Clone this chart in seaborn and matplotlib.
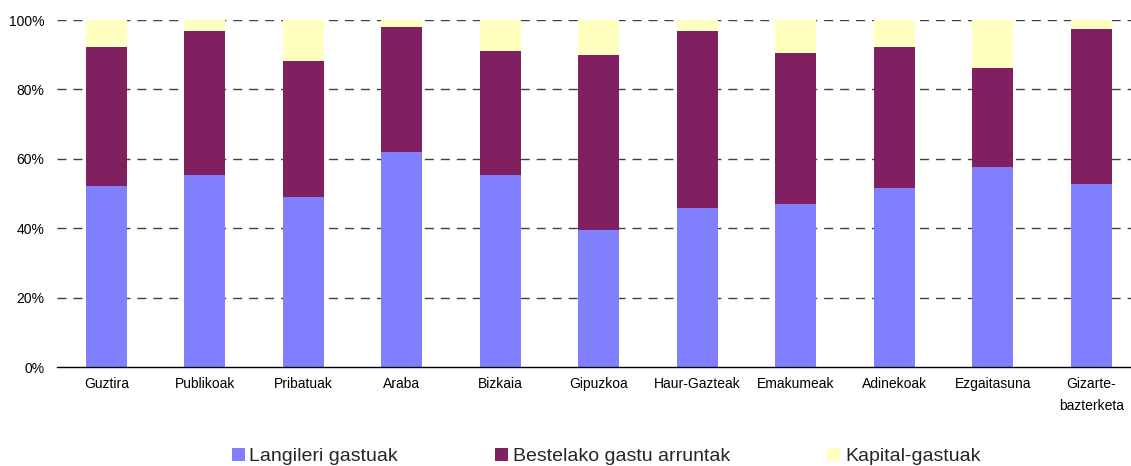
import numpy as np
import pandas as pd
import matplotlib
matplotlib.use("Agg")
import matplotlib.pyplot as plt
import seaborn as sns
from matplotlib.ticker import FixedLocator, PercentFormatter

categories = ["Guztira", "Publikoak", "Pribatuak", "Araba", "Bizkaia", "Gipuzkoa",
              "Haur-Gazteak", "Emakumeak", "Adinekoak", "Ezgaitasuna", "Gizarte-\nbazterketa"]
langileri = [52.2, 55.3, 49.0, 62.0, 55.3, 39.5, 45.8, 47.0, 51.6, 57.6, 52.7]
bestelako = [40.0, 41.5, 39.2, 36.0, 35.8, 50.4, 51.0, 43.5, 40.6, 28.6, 44.7]
kapital = [7.8, 3.2, 11.8, 2.0, 8.9, 10.1, 3.2, 9.5, 7.8, 13.8, 2.6]
series_names = ["Langileri gastuak", "Bestelako gastu arruntak", "Kapital-gastuak"]
colors = ["#8080FF", "#802060", "#FFFFC0"]

sns.set_theme(style="white")
plt.rcParams["font.family"] = ["Liberation Sans", "DejaVu Sans"]

df = pd.DataFrame({"cat": categories, "a": langileri, "b": bestelako, "c": kapital})
df["top_a"] = df["a"]
df["top_b"] = df["a"] + df["b"]
df["top_c"] = df["a"] + df["b"] + df["c"]

fig = plt.figure(figsize=(11.31, 4.66), dpi=100)
ax = fig.add_axes([0.0504, 0.2124, 0.958, 0.7446])

ax.set_axisbelow(True)
for y in [20, 40, 60, 80, 100]:
    ax.axhline(y, color="#404040", lw=1.0, ls=(0, (6.5, 5)), zorder=0)

sns.barplot(data=df, x="cat", y="top_c", color=colors[2], width=0.415, saturation=1,
            ax=ax, label=series_names[2], zorder=2)
sns.barplot(data=df, x="cat", y="top_b", color=colors[1], width=0.415, saturation=1,
            ax=ax, label=series_names[1], zorder=2)
sns.barplot(data=df, x="cat", y="top_a", color=colors[0], width=0.415, saturation=1,
            ax=ax, label=series_names[0], zorder=2)
for p in ax.patches:
    p.set_linewidth(0)

ax.set_ylim(0, 100)
ax.set_xlim(-0.5, len(categories) - 0.5)
ax.set_xlabel("")
ax.set_ylabel("")
ax.yaxis.set_major_formatter(PercentFormatter(decimals=0))
ax.set_yticks([0, 20, 40, 60, 80, 100])
ax.tick_params(axis="y", length=0, pad=9, labelsize=10, labelcolor="#000000")
ax.tick_params(axis="x", which="major", length=0, pad=7, labelsize=10, labelcolor="#000000")
for lbl in ax.get_xticklabels():
    lbl.set_linespacing(1.75)
    lbl.set_verticalalignment("top")
ax.xaxis.set_minor_locator(FixedLocator(np.arange(-0.5, len(categories), 1.0)))
ax.tick_params(axis="x", which="minor", length=4, width=1, color="#000000", direction="out")

for s in ["top", "right", "left"]:
    ax.spines[s].set_visible(False)
ax.spines["bottom"].set_color("#000000")
ax.spines["bottom"].set_linewidth(1.0)
ax.spines["bottom"].set_zorder(3)

if ax.get_legend() is not None:
    ax.get_legend().remove()
handles, labels = ax.get_legend_handles_labels()
order = [labels.index(n) for n in series_names]
leg = fig.legend([handles[i] for i in order], [labels[i] for i in order],
                 loc="center", bbox_to_anchor=(0.536, 0.02), ncol=3, frameon=False,
                 fontsize=14, handlelength=0.65, handleheight=0.65, handletextpad=0.25,
                 columnspacing=5.0)

fig.savefig("out.png", dpi=100)
